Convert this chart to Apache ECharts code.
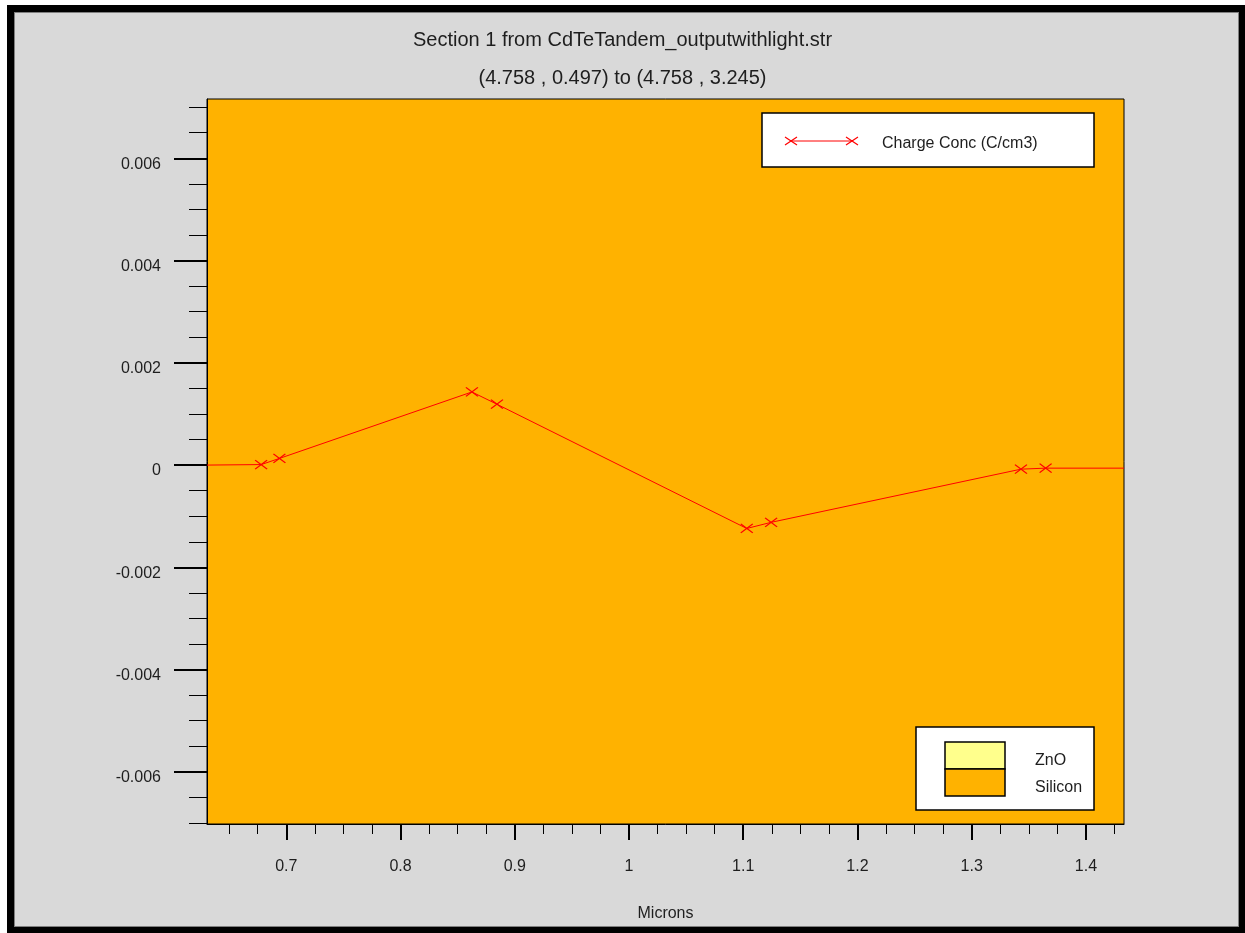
<!DOCTYPE html>
<html>
<head>
<meta charset="utf-8">
<script src="https://cdn.jsdelivr.net/npm/echarts@6/dist/echarts.min.js"></script>
<style>
  html, body { margin: 0; padding: 0; background: #ffffff; }
  #frameBlack { position: absolute; left: 7px; top: 5px; width: 1238px; height: 928px; background: #000; }
  #frameInner { position: absolute; left: 14px; top: 12px; width: 1225px; height: 915px; background: #d9d9d9; box-sizing: border-box; border: 1px solid #7f7f7f; }
  #chart { position: absolute; left: 0; top: 0; width: 1245px; height: 933px; }
</style>
</head>
<body>
<div id="frameBlack"></div>
<div id="frameInner"></div>
<div id="chart"></div>
<script>
// ---- data ----
const titleText = 'Section 1 from CdTeTandem_outputwithlight.str';
const subtitleText = '(4.758 , 0.497) to (4.758 , 3.245)';
const seriesName = 'Charge Conc (C/cm3)';
const xAxisName = 'Microns';
const materials = ['ZnO', 'Silicon'];

const micronValues = [0.6306, 0.678, 0.694, 0.8625, 0.8844, 1.1031, 1.1244, 1.3431, 1.3647, 1.4333];
const chargeConc   = [0, 0.00001, 0.00013, 0.00143, 0.00119, -0.00124, -0.00112, -0.00008, -0.00006, -0.00006];
const hasMarker    = [false, true, true, true, true, true, true, true, true, false];

const xMin = 0.6306, xMax = 1.4333;
const yMin = -0.00702, yMax = 0.00716;
const xMajorTicks = [0.7, 0.8, 0.9, 1.0, 1.1, 1.2, 1.3, 1.4];
const yMajorTicks = [-0.006, -0.004, -0.002, 0, 0.002, 0.004, 0.006];
const xMinorStep = 0.025, yMinorStep = 0.0005;

// ---- derived ----
const xMinorTicks = [];
for (let v = 0.65; v < xMax; v += xMinorStep) xMinorTicks.push(+v.toFixed(4));
const yMinorTicks = [];
for (let v = -0.007; v <= yMax; v += yMinorStep) yMinorTicks.push(+v.toFixed(5));

const fmt = v => String(parseFloat((+v).toFixed(4)));

const orange = '#ffb200';
const znoColor = '#ffff8c';
const textColor = '#1e1e1e';
const xMark = 'path://M0,0L10,10M10,0L0,10';

const data = micronValues.map((x, i) => {
  const item = { value: [x, chargeConc[i]] };
  if (!hasMarker[i]) item.symbol = 'none';
  return item;
});

const chart = echarts.init(document.getElementById('chart'), null, { renderer: 'canvas' });

const font = 'Liberation Sans, Arial, sans-serif';

function xMarker(cx, cy) {
  return {
    type: 'polyline', z: 20,
    shape: { points: [[cx - 6, cy - 4], [cx + 6, cy + 4], [cx, cy], [cx - 6, cy + 4], [cx + 6, cy - 4]] },
    style: { stroke: '#ff0000', lineWidth: 1.2, fill: null }
  };
}

chart.setOption({
  backgroundColor: 'transparent',
  animation: false,
  title: [
    { text: titleText, left: 'center', top: 25, padding: [5, 0, 5, 10],
      textStyle: { fontFamily: font, fontSize: 20, fontWeight: 'normal', color: textColor } },
    { text: subtitleText, left: 'center', top: 63, padding: [5, 0, 5, 10],
      textStyle: { fontFamily: font, fontSize: 20, fontWeight: 'normal', color: textColor } }
  ],
  grid: {
    left: 207, top: 99, right: 121, bottom: 109,
    show: true, backgroundColor: orange, borderColor: '#000', borderWidth: 1
  },
  xAxis: [
    {
      type: 'value', min: xMin, max: xMax, position: 'bottom',
      name: xAxisName, nameLocation: 'middle', nameGap: 82,
      nameTextStyle: { fontFamily: font, fontSize: 16, color: textColor },
      axisLine: { show: true, onZero: false, lineStyle: { color: '#000', width: 1 } },
      axisTick: { show: true, length: 16, customValues: xMajorTicks, lineStyle: { color: '#000', width: 2 } },
      axisLabel: { show: true, customValues: xMajorTicks, formatter: fmt, margin: 35,
        fontFamily: font, fontSize: 16, color: textColor },
      splitLine: { show: false }
    },
    {
      type: 'value', min: xMin, max: xMax, position: 'bottom', offset: 0,
      axisLine: { show: false, onZero: false },
      axisTick: { show: true, length: 10, customValues: xMinorTicks, lineStyle: { color: '#000', width: 1 } },
      axisLabel: { show: false },
      splitLine: { show: false }
    }
  ],
  yAxis: [
    {
      type: 'value', min: yMin, max: yMax, position: 'left',
      axisLine: { show: true, onZero: false, lineStyle: { color: '#000', width: 1 } },
      axisTick: { show: true, length: 33, customValues: yMajorTicks, lineStyle: { color: '#000', width: 2 } },
      axisLabel: { show: true, customValues: yMajorTicks, formatter: fmt, margin: 46,
        fontFamily: font, fontSize: 16, color: textColor, verticalAlign: 'top', padding: [-2, 0, 0, 0] },
      splitLine: { show: false }
    },
    {
      type: 'value', min: yMin, max: yMax, position: 'left', offset: 0,
      axisLine: { show: false, onZero: false },
      axisTick: { show: true, length: 18, customValues: yMinorTicks, lineStyle: { color: '#000', width: 1 } },
      axisLabel: { show: false },
      splitLine: { show: false }
    }
  ],
  series: [
    {
      name: seriesName, type: 'line', xAxisIndex: 0, yAxisIndex: 0,
      data: data,
      symbol: xMark, symbolSize: [12, 9],
      showAllSymbol: true,
      lineStyle: { color: '#ff0000', width: 1 },
      itemStyle: { color: 'rgba(0,0,0,0)', borderColor: '#ff0000', borderWidth: 1.2 },
      z: 5
    }
  ],
  graphic: [
    // series legend
    { type: 'rect', z: 20, shape: { x: 762, y: 113, width: 332, height: 54 },
      style: { fill: '#ffffff', stroke: '#000', lineWidth: 1.5 } },
    { type: 'line', z: 20, shape: { x1: 791, y1: 141, x2: 852, y2: 141 },
      style: { stroke: '#ff0000', lineWidth: 1 } },
    xMarker(791, 141),
    xMarker(852, 141),
    { type: 'text', z: 20, x: 882, y: 144,
      style: { text: seriesName, fontFamily: font, fontSize: 16, fill: textColor, verticalAlign: 'middle' } },
    // material legend
    { type: 'rect', z: 20, shape: { x: 916, y: 727, width: 178, height: 83 },
      style: { fill: '#ffffff', stroke: '#000', lineWidth: 1.5 } },
    { type: 'rect', z: 20, shape: { x: 945, y: 742, width: 60, height: 27 },
      style: { fill: znoColor, stroke: '#000', lineWidth: 1.5 } },
    { type: 'rect', z: 20, shape: { x: 945, y: 769, width: 60, height: 27 },
      style: { fill: orange, stroke: '#000', lineWidth: 1.5 } },
    { type: 'text', z: 20, x: 1035, y: 761,
      style: { text: materials[0], fontFamily: font, fontSize: 16, fill: textColor, verticalAlign: 'middle' } },
    { type: 'text', z: 20, x: 1035, y: 788,
      style: { text: materials[1], fontFamily: font, fontSize: 16, fill: textColor, verticalAlign: 'middle' } }
  ]
});
</script>
</body>
</html>
